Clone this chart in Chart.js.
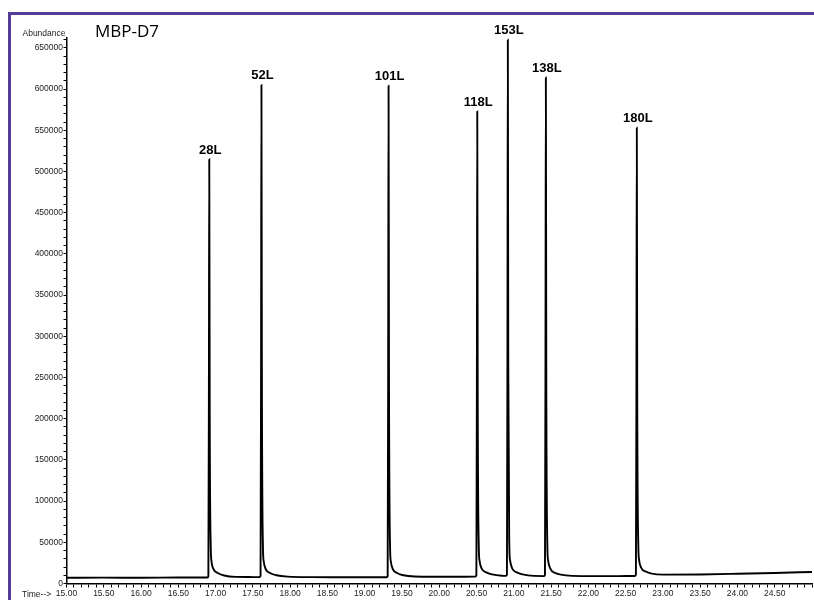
<!DOCTYPE html>
<html>
<head>
<meta charset="utf-8">
<script src="https://cdn.jsdelivr.net/npm/chart.js@4.4.0/dist/chart.umd.min.js"></script>
<style>
  body { margin: 0; background: #fff; }
</style>
</head>
<body>
<canvas id="graph" width="814" height="600"></canvas>
<script>
// retention time (min) and abundance of the trace
const timeVals = [
  15.00, 15.50, 16.00, 16.50, 16.885,
  16.903, 16.910, 16.915, 16.921, 16.935, 16.945, 16.975, 17.035, 17.115, 17.265, 17.45,
  17.585, 17.603, 17.610, 17.615, 17.621, 17.635, 17.645, 17.675, 17.735, 17.815, 17.965, 18.30, 18.70, 19.00,
  19.290, 19.308, 19.315, 19.320, 19.326, 19.340, 19.350, 19.380, 19.440, 19.520, 19.670, 19.90, 20.20,
  20.480, 20.498, 20.505, 20.510, 20.516, 20.530, 20.540, 20.570, 20.630, 20.710, 20.860,
  20.890, 20.908, 20.915, 20.920, 20.926, 20.940, 20.950, 20.980, 21.040, 21.120, 21.270,
  21.400, 21.418, 21.425, 21.430, 21.436, 21.450, 21.460, 21.490, 21.550, 21.630, 21.780, 22.10, 22.40,
  22.620, 22.638, 22.645, 22.650, 22.656, 22.670, 22.680, 22.710, 22.770, 22.850, 23.00, 23.50, 24.00, 24.50, 25.00
];
const abundVals = [
  7000, 7100, 7000, 7200, 7200,
  8700, 232000, 515000, 206000, 45000, 27000, 17000, 12500, 9700, 8000, 7800,
  7700, 9200, 272000, 605000, 242000, 45000, 27000, 17000, 12500, 10000, 8300, 7700, 7600, 7500,
  7500, 9000, 272000, 604000, 242000, 45000, 27000, 17000, 12500, 10000, 8500, 8200, 8200,
  8300, 9800, 258000, 573000, 229000, 46000, 28000, 18000, 13500, 11000, 9300,
  9200, 10700, 297000, 660000, 264000, 46000, 28000, 18000, 13500, 11000, 9200,
  9000, 10300, 276000, 614000, 246000, 46000, 28000, 18000, 13000, 10800, 9300, 9000, 9000,
  9100, 10600, 249000, 553000, 221000, 47000, 29000, 19000, 14500, 12000, 10800, 11000, 11800, 12800, 14000
];

// peak labels
const peakNames = ['28L', '52L', '101L', '118L', '153L', '138L', '180L'];
const peakTimes = [16.915, 17.615, 19.32, 20.51, 20.92, 21.43, 22.65];
const peakHeights = [515000, 605000, 604000, 573000, 660000, 614000, 553000];

// axis ticks: minor every 10000 / 0.1, labelled every 50000 / 0.5
const yTicks = [];
for (let v = 0; v <= 660000; v += 10000) yTicks.push(v);
const xTicks = [];
for (let i = 0; i <= 100; i++) xTicks.push(Math.round((15 + i * 0.1) * 10) / 10);

const FONT = "'Liberation Sans', Arial, sans-serif";

const decor = {
  id: 'decor',
  afterDraw(chart) {
    const c = chart.ctx;
    const xs = chart.scales.x, ys = chart.scales.y;
    c.save();
    // purple frame
    c.strokeStyle = '#563c98';
    c.lineWidth = 3;
    c.beginPath();
    c.moveTo(814, 13.5);
    c.lineTo(9.5, 13.5);
    c.lineTo(9.5, 600);
    c.stroke();

    c.fillStyle = '#000';
    c.font = "17px 'Open Sans', sans-serif";
    c.textAlign = 'left';
    c.textBaseline = 'alphabetic';
    c.fillText('MBP-D7', 95, 37);

    c.fillStyle = '#222';
    c.font = '8.5px ' + FONT;
    c.textAlign = 'right';
    c.fillText('Abundance', 65.5, 36);
    c.textAlign = 'left';
    c.fillText('Time-->', 22, 597);

    // peak names
    c.fillStyle = '#000';
    c.font = 'bold 13px ' + FONT;
    c.textAlign = 'center';
    peakNames.forEach((name, i) => {
      const px = xs.getPixelForValue(peakTimes[i]);
      const py = ys.getPixelForValue(peakHeights[i]);
      c.fillText(name, px + 1, py - 5.5);
    });
    c.restore();
  }
};

new Chart(document.getElementById('graph'), {
  type: 'line',
  data: {
    datasets: [{
      data: timeVals.map((t, i) => ({ x: t, y: abundVals[i] })),
      borderColor: '#000',
      borderWidth: 1.9,
      pointRadius: 0,
      cubicInterpolationMode: 'monotone',
      fill: false
    }]
  },
  options: {
    responsive: false,
    animation: false,
    layout: { padding: { top: 38, right: 2, left: 0, bottom: 0 } },
    plugins: { legend: { display: false }, tooltip: { enabled: false } },
    scales: {
      x: {
        type: 'linear',
        min: 15,
        max: 25,
        afterFit: s => { s.height = 16.5; },
        afterBuildTicks: s => { s.ticks = xTicks.map(v => ({ value: v })); },
        border: { color: '#000', width: 1.5 },
        grid: { drawOnChartArea: false, tickLength: 4, tickColor: '#000', tickWidth: 1 },
        ticks: {
          autoSkip: false,
          maxRotation: 0,
          padding: 1,
          color: '#222',
          font: { size: 8.5, family: FONT },
          callback: v => (Math.round(v * 10) % 5 === 0 && v < 24.99) ? v.toFixed(2) : ''
        }
      },
      y: {
        min: 0,
        max: 662000,
        afterFit: s => { s.width = 66.5; },
        afterBuildTicks: s => { s.ticks = yTicks.map(v => ({ value: v })); },
        border: { color: '#000', width: 1.5 },
        grid: { drawOnChartArea: false, tickLength: 3, tickColor: '#000', tickWidth: 1 },
        ticks: {
          autoSkip: false,
          padding: 0.5,
          color: '#222',
          font: { size: 8.5, family: FONT },
          callback: v => (v % 50000 === 0) ? String(v) : ''
        }
      }
    }
  },
  plugins: [decor]
});
</script>
</body>
</html>
